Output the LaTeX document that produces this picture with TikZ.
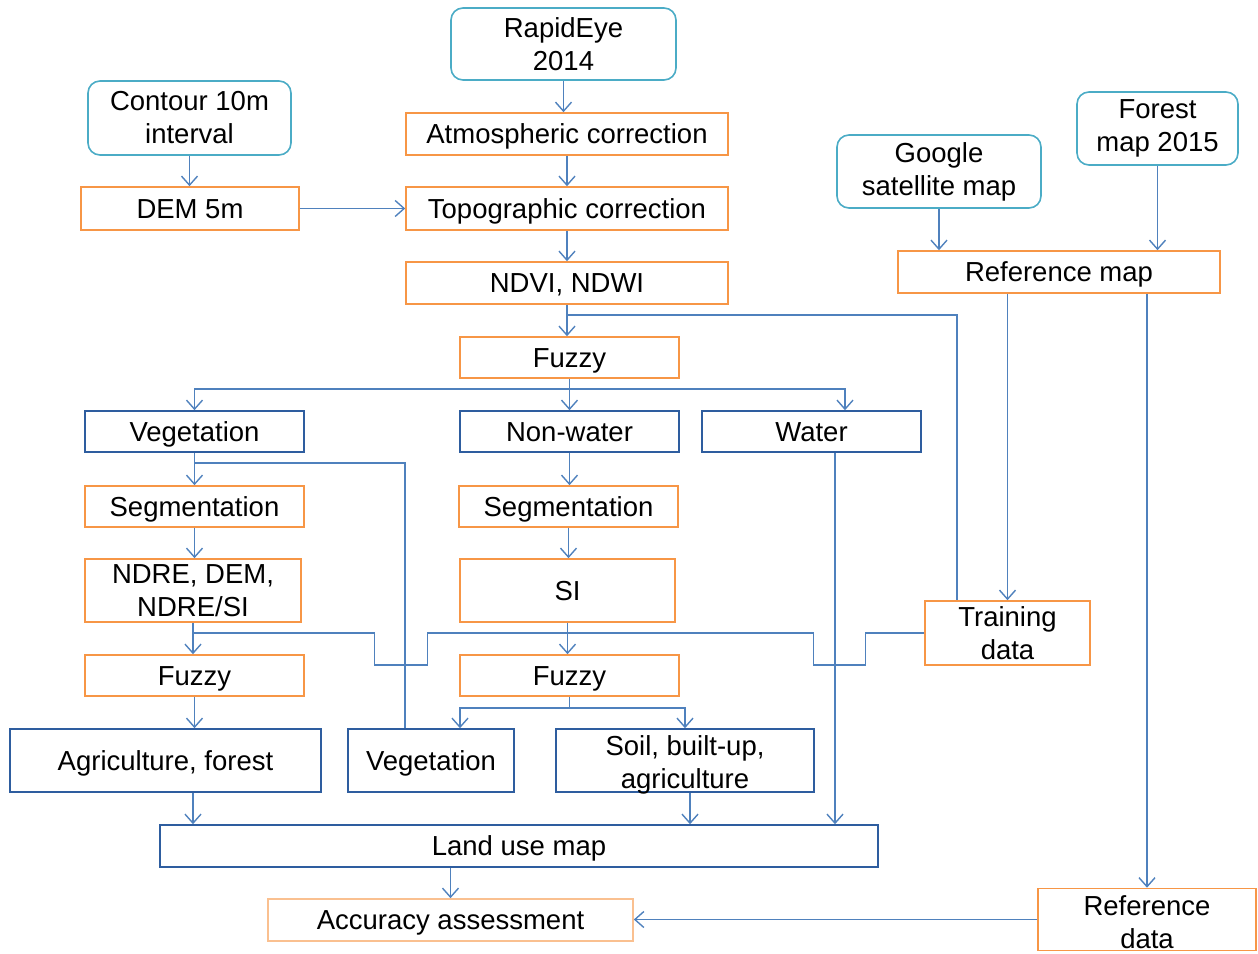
\documentclass[tikz,border=0pt]{standalone}
\usepackage{fontspec}
\setmainfont{Liberation Sans}
\usetikzlibrary{arrows.meta}
\definecolor{borange}{HTML}{F79646}
\definecolor{bcyan}{HTML}{4BACC6}
\definecolor{bdark}{HTML}{2E5D9F}
\definecolor{blines}{HTML}{4F81BD}
\definecolor{blight}{HTML}{FAC090}
\tikzset{
  base/.style={draw, line width=1.6pt, inner sep=0pt, align=center, font=\fontsize{27.5}{33}\selectfont, fill=white},
  one/.style={text height=24.9pt, text depth=5.8pt},
  obox/.style={base, draw=borange},
  cbox/.style={base, draw=bcyan, rounded corners=12pt},
  dbox/.style={base, draw=bdark},
  lbox/.style={base, draw=blight},
  ln/.style={draw=blines, line width=1.4pt},
  arr/.style={ln, -{Straight Barb[length=9pt,width=16pt,line width=1.4pt]}},
}
\begin{document}
\begin{tikzpicture}[x=1pt,y=-1pt]
\useasboundingbox (0,0) rectangle (1258,953);
% nodes
\node[cbox, minimum width=225pt, minimum height=72pt] (rapid) at (563.5,44) {RapidEye\\2014};
\node[cbox, minimum width=203pt, minimum height=74pt] (contour) at (189.5,118) {Contour 10m\\interval};
\node[obox, one, minimum width=322pt, minimum height=42pt] (atm) at (567,134) {Atmospheric correction};
\node[obox, one, minimum width=218pt, minimum height=43pt] (dem) at (190,208.5) {DEM 5m};
\node[obox, one, minimum width=322pt, minimum height=43pt] (topo) at (567,208.5) {Topographic correction};
\node[obox, one, minimum width=322pt, minimum height=42pt] (ndvi) at (567,283) {NDVI, NDWI};
\node[cbox, minimum width=204pt, minimum height=73pt] (google) at (939,171.5) {Google\\satellite map};
\node[cbox, minimum width=161pt, minimum height=73pt] (forest) at (1157.5,128.5) {Forest\\map 2015};
\node[obox, one, minimum width=322pt, minimum height=42pt] (refmap) at (1059,272) {Reference map};
\node[obox, one, minimum width=219pt, minimum height=41pt] (fuzzy1) at (569.5,357.5) {Fuzzy};
\node[dbox, one, minimum width=219pt, minimum height=41pt] (veg) at (194.5,431.5) {Vegetation};
\node[dbox, one, minimum width=219pt, minimum height=41pt] (nonwater) at (569.5,431.5) {Non-water};
\node[dbox, one, minimum width=219pt, minimum height=41pt] (water) at (811.5,431.5) {Water};
\node[obox, one, minimum width=219pt, minimum height=41pt] (seg1) at (194.5,506.5) {Segmentation};
\node[obox, one, minimum width=219pt, minimum height=41pt] (seg2) at (568.5,506.5) {Segmentation};
\node[obox, minimum width=216pt, minimum height=63pt] (ndre) at (193,590.5) {NDRE, DEM,\\NDRE/SI};
\node[obox, one, minimum width=215pt, minimum height=63pt] (si) at (567.5,590.5) {SI};
\node[obox, minimum width=165pt, minimum height=64pt] (train) at (1007.5,633) {Training\\data};
\node[obox, one, minimum width=219pt, minimum height=41pt] (fuzzy2) at (194.5,675.5) {Fuzzy};
\node[obox, one, minimum width=219pt, minimum height=41pt] (fuzzy3) at (569.5,675.5) {Fuzzy};
\node[dbox, one, minimum width=311pt, minimum height=63pt] (agri) at (165.5,760.5) {Agriculture, forest};
\node[dbox, one, minimum width=166pt, minimum height=63pt] (veg2) at (431,760.5) {Vegetation};
\node[dbox, minimum width=258pt, minimum height=63pt] (soil) at (685,760.5) {\rule{0pt}{22pt}Soil, built-up,\\\smash{agriculture}};
\node[dbox, one, minimum width=718pt, minimum height=42pt] (landuse) at (519,846) {Land use map};
\node[lbox, one, minimum width=365pt, minimum height=42pt] (acc) at (450.5,920) {Accuracy assessment};
\node[obox, minimum width=218pt, minimum height=62pt] (refdata) at (1147,919.5) {\rule{0pt}{26pt}Reference\\data};
% junctions
\coordinate (j1) at (567,315);
\coordinate (j2) at (569.5,389);
\coordinate (j3) at (194.5,463);
\coordinate (j4) at (569.5,708);
% connectors
\draw[arr] (rapid) -- (rapid |- atm.north);
\draw[arr] (contour) -- (contour |- dem.north);
\draw[arr] (atm) -- (topo);
\draw[arr] (dem) -- (topo);
\draw[arr] (topo) -- (ndvi);
\draw[arr] (ndvi) -- (ndvi |- fuzzy1.north);
\draw[ln] (j1) -| ([xshift=-50.5pt]train.north);
\draw[arr] (google) -- (google |- refmap.north);
\draw[arr] (forest) -- (forest |- refmap.north);
\draw[arr] (train |- refmap.south) -- (train);
\draw[arr] (refdata |- refmap.south) -- (refdata);
\draw[ln] (fuzzy1) -- (j2);
\draw[arr] (j2) -| (veg);
\draw[arr] (j2) -- (nonwater);
\draw[arr] (j2) -| ([xshift=33.5pt]water.north);
\draw[arr] (veg) -- (seg1);
\draw[ln] (j3) -| ([xshift=-26pt]veg2.north);
\draw[arr] (seg1) -- (seg1 |- ndre.north);
\draw[arr] (ndre) -- (ndre |- fuzzy2.north);
\draw[arr] (nonwater) -- (nonwater |- seg2.north);
\draw[arr] (seg2) -- (seg2 |- si.north);
\draw[arr] (si) -- (si |- fuzzy3.north);
\draw[ln] (train.west) -- ++(-59,0) -- ++(0,32) -- ++(-52,0) -- ++(0,-32) -- ++(-386,0) -- ++(0,32) -- ++(-53,0) -- ++(0,-32) -- (ndre |- train.west);
\draw[arr] (fuzzy2) -- (fuzzy2 |- agri.north);
\draw[ln] (fuzzy3) -- (j4);
\draw[arr] (j4) -| ([xshift=29pt]veg2.north);
\draw[arr] (j4) -| (soil.north);
\draw[arr] ([xshift=27.5pt]agri.south) -- ([xshift=27.5pt]agri.south |- landuse.north);
\draw[arr] ([xshift=5pt]soil.south) -- ([xshift=5pt]soil.south |- landuse.north);
\draw[arr] ([xshift=23.5pt]water.south) -- ([xshift=23.5pt]water.south |- landuse.north);
\draw[arr] (acc |- landuse.south) -- (acc);
\draw[arr] (refdata.west) -- (refdata.west -| acc.east);
\end{tikzpicture}
\end{document}
